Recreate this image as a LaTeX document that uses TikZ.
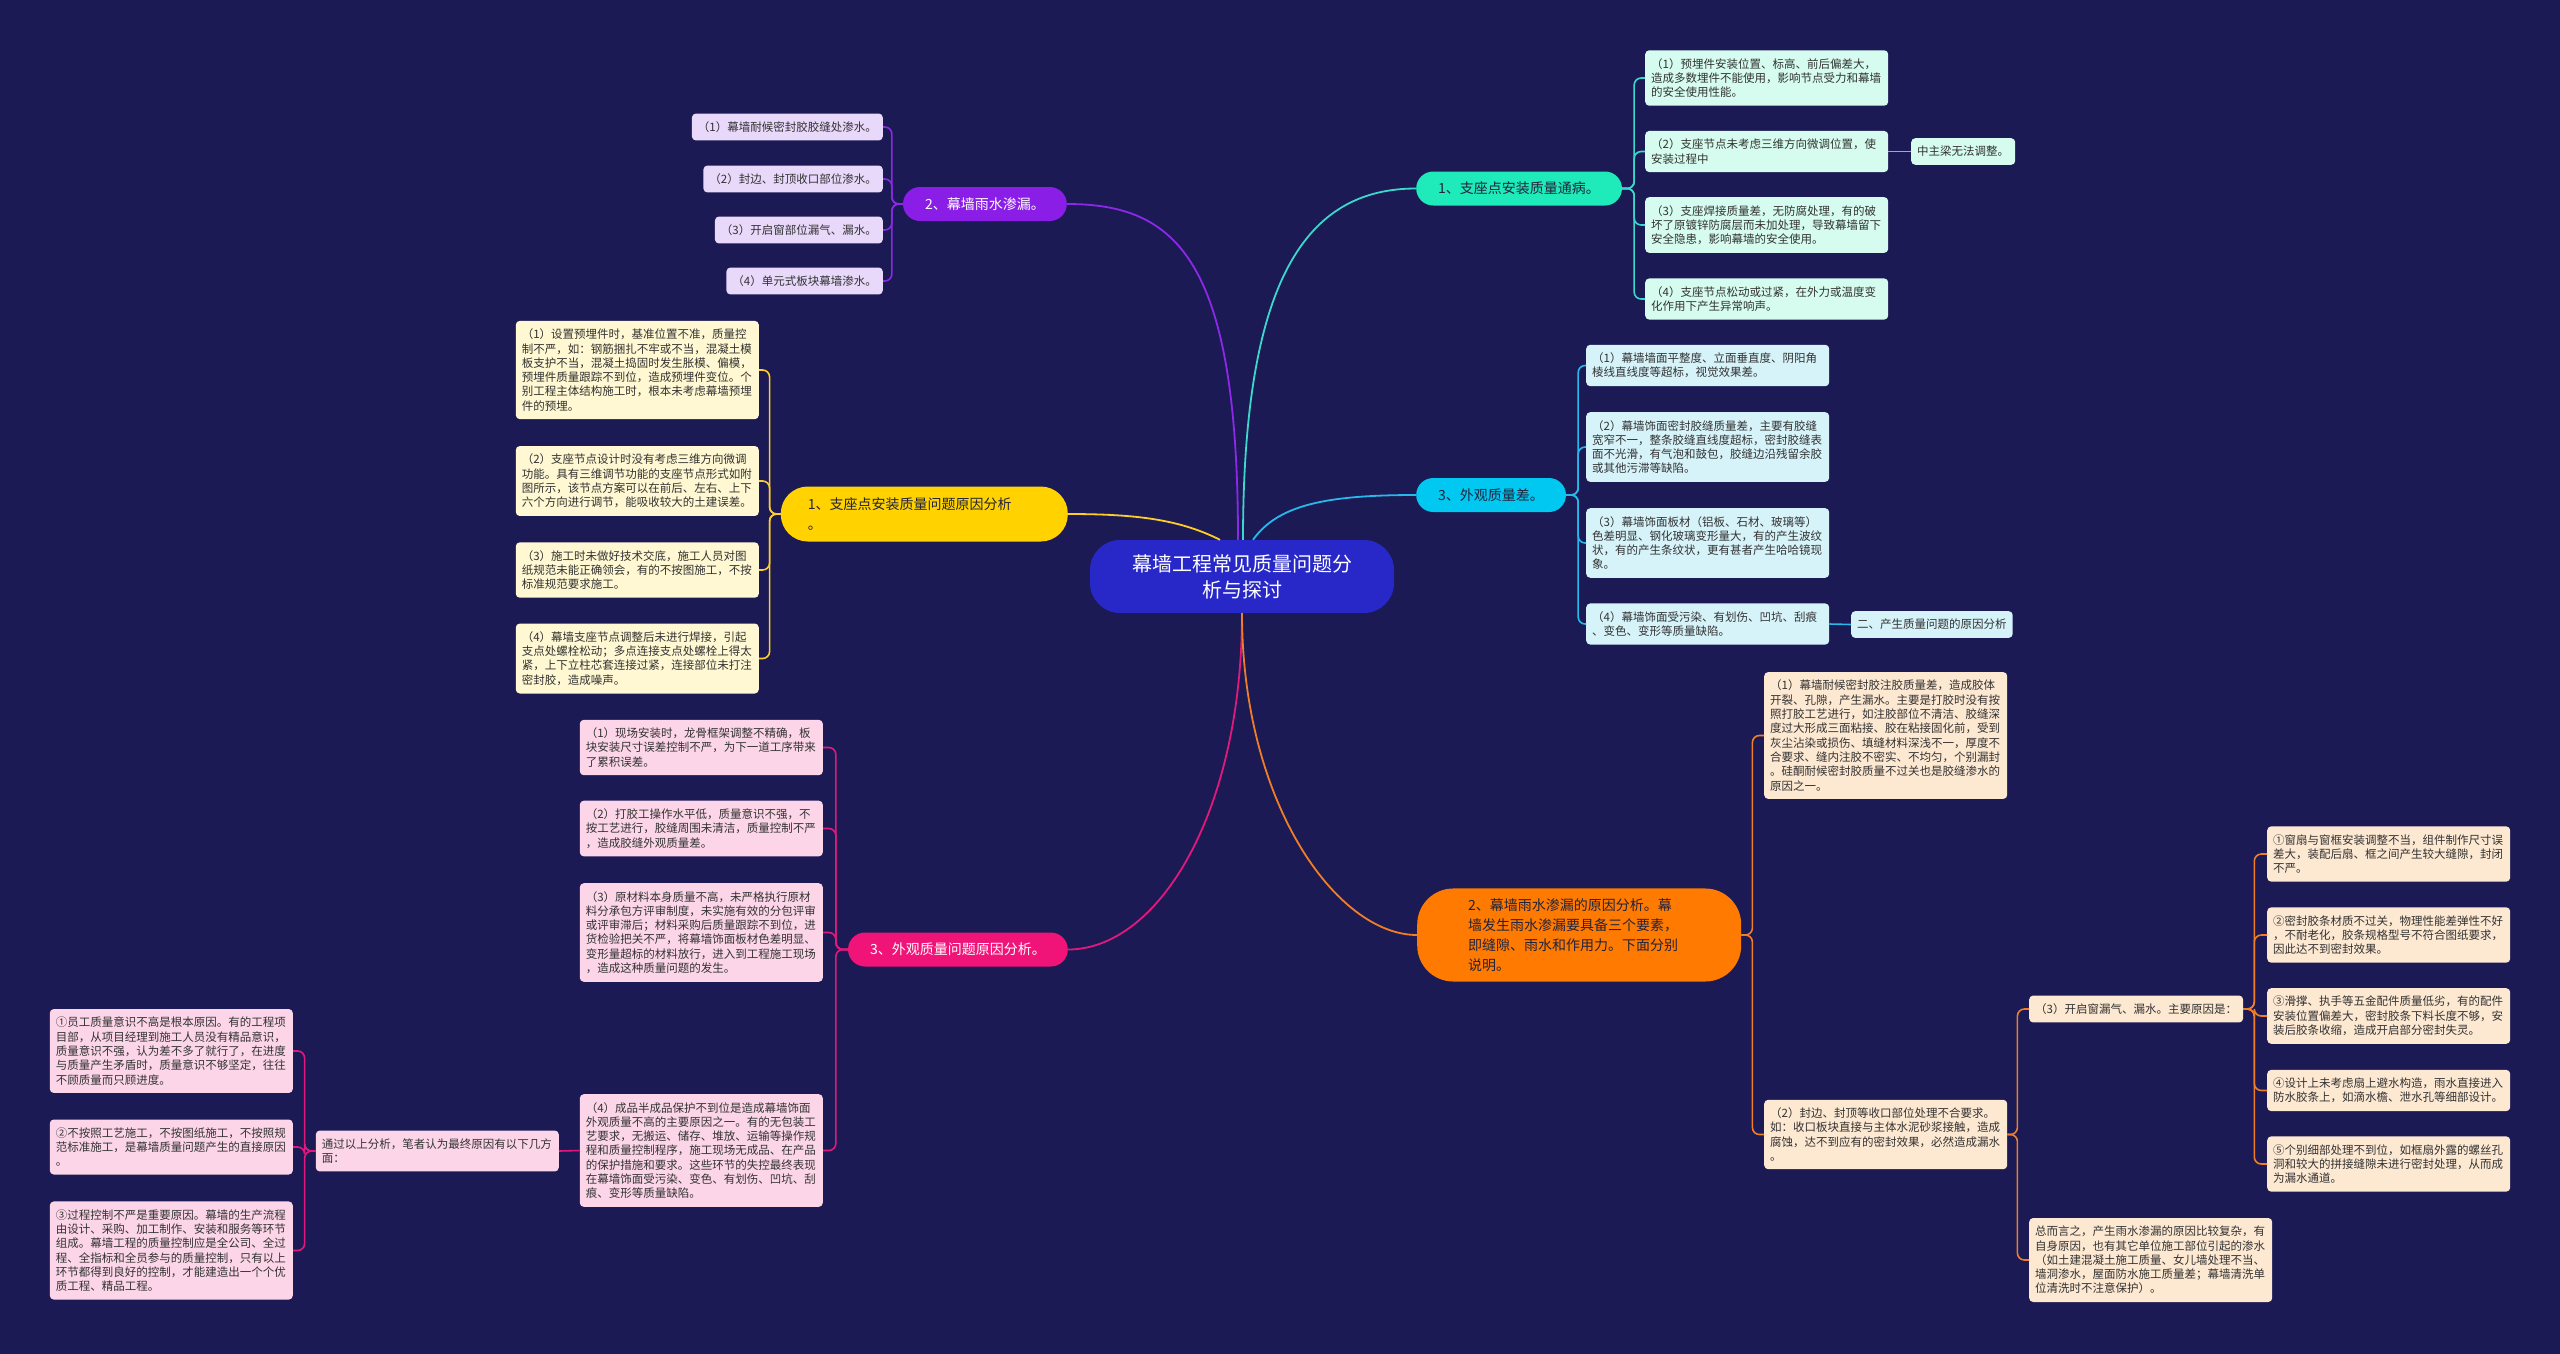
\documentclass[tikz,border=0pt]{standalone}
\usepackage{fontspec}
\setmainfont{Noto Sans CJK SC}
\setlength{\parindent}{0pt}

\definecolor{bgnavy}{RGB}{27,26,84}
\definecolor{rootblue}{RGB}{40,40,200}
\definecolor{darktext}{RGB}{35,35,60}
\definecolor{leaftext}{RGB}{50,50,50}
\definecolor{tealfill}{RGB}{30,235,185}
\definecolor{tealline}{RGB}{60,215,205}
\definecolor{tealleaf}{RGB}{214,252,240}
\definecolor{cyanfill}{RGB}{0,200,240}
\definecolor{cyanline}{RGB}{40,185,235}
\definecolor{cyanleaf}{RGB}{214,243,250}
\definecolor{orangefill}{RGB}{255,122,0}
\definecolor{orangeline}{RGB}{240,125,40}
\definecolor{orangeleaf}{RGB}{253,232,210}
\definecolor{purplefill}{RGB}{138,30,230}
\definecolor{purpleline}{RGB}{140,40,230}
\definecolor{purpleleaf}{RGB}{232,216,250}
\definecolor{yellowfill}{RGB}{255,210,0}
\definecolor{yellowline}{RGB}{255,205,40}
\definecolor{yellowleaf}{RGB}{255,248,210}
\definecolor{pinkfill}{RGB}{240,20,120}
\definecolor{pinkline}{RGB}{225,25,125}
\definecolor{pinkleaf}{RGB}{252,214,232}

\begin{document}
\begin{tikzpicture}[
    x=1pt, y=1pt,
    rootbox/.style={rectangle, rounded corners=30pt, fill=rootblue, text=white,
                    minimum width=304pt, minimum height=73pt, align=center, font=\fontsize{20}{26}\selectfont},
    branchbox/.style={rectangle, rounded corners=17pt, minimum height=34pt, inner xsep=22pt,
                      font=\fontsize{14}{20}\selectfont, text=darktext},
    leafbox/.style={rectangle, rounded corners=4pt, inner xsep=6pt, inner ysep=8pt,
                    font=\fontsize{11.5}{14.3}\selectfont, text=leaftext},
    wide/.style={text width=231pt, align=left},
    mainline/.style={line width=1.8pt},
    conn/.style={line width=1.6pt, rounded corners=7pt}
]

% Background
\useasboundingbox (0,0) rectangle (2560,-1353);
\fill[bgnavy] (-10,10) rectangle (2570,-1363);

% Root
\node[rootbox] (root) at (1242,-576.5) {幕墙工程常见质量问题分\\析与探讨};

% Right branches
\node[branchbox, fill=tealfill, anchor=west] (n1) at (1416,-188.5) {1、支座点安装质量通病。};
\node[branchbox, fill=cyanfill, anchor=west] (n3) at (1416,-495) {3、外观质量差。};
\node[branchbox, fill=orangefill, anchor=west, rounded corners=36pt, text width=222pt, inner xsep=51pt, inner ysep=10pt, align=left] (n2) at (1417,-935) {2、幕墙雨水渗漏的原因分析。幕\\墙发生雨水渗漏要具备三个要素，\\即缝隙、雨水和作用力。下面分别\\说明。};

% Left branches
\node[branchbox, fill=yellowfill, anchor=east, rounded corners=27pt, minimum height=55pt, text width=233pt, inner xsep=27pt, align=left] (m1) at (1068,-514) {1、支座点安装质量问题原因分析\\。};
\node[branchbox, fill=purplefill, text=white, anchor=east] (m2) at (1067,-204) {2、幕墙雨水渗漏。};
\node[branchbox, fill=pinkfill, text=white, anchor=east] (m3) at (1068,-949.5) {3、外观质量问题原因分析。};

% Leaves: 1、支座点安装质量通病
\node[leafbox, wide, fill=tealleaf, anchor=west] (n1c1) at (1645,-78) {（1）预埋件安装位置、标高、前后偏差大，\\造成多数埋件不能使用，影响节点受力和幕墙\\的安全使用性能。};
\node[leafbox, wide, fill=tealleaf, anchor=west] (n1c2) at (1645,-151.5) {（2）支座节点未考虑三维方向微调位置，使\\安装过程中};
\node[leafbox, wide, fill=tealleaf, anchor=west] (n1c3) at (1645,-225) {（3）支座焊接质量差，无防腐处理，有的破\\坏了原镀锌防腐层而未加处理，导致幕墙留下\\安全隐患，影响幕墙的安全使用。};
\node[leafbox, wide, fill=tealleaf, anchor=west] (n1c4) at (1645,-299) {（4）支座节点松动或过紧，在外力或温度变\\化作用下产生异常响声。};
\node[leafbox, fill=tealleaf, anchor=west] (n1c2a) at (1911,-151.5) {中主梁无法调整。};

% Leaves: 3、外观质量差
\node[leafbox, wide, fill=cyanleaf, anchor=west] (n3c1) at (1586,-365.5) {（1）幕墙墙面平整度、立面垂直度、阴阳角\\棱线直线度等超标，视觉效果差。};
\node[leafbox, wide, fill=cyanleaf, anchor=west] (n3c2) at (1586,-447) {（2）幕墙饰面密封胶缝质量差，主要有胶缝\\宽窄不一，整条胶缝直线度超标，密封胶缝表\\面不光滑，有气泡和鼓包，胶缝边沿残留余胶\\或其他污滞等缺陷。};
\node[leafbox, wide, fill=cyanleaf, anchor=west] (n3c3) at (1586,-543) {（3）幕墙饰面板材（铝板、石材、玻璃等）\\色差明显、钢化玻璃变形量大，有的产生波纹\\状，有的产生条纹状，更有甚者产生哈哈镜现\\象。};
\node[leafbox, wide, fill=cyanleaf, anchor=west] (n3c4) at (1586,-624) {（4）幕墙饰面受污染、有划伤、凹坑、刮痕\\、变色、变形等质量缺陷。};
\node[leafbox, fill=cyanleaf, anchor=west] (n3c4a) at (1851,-624.5) {二、产生质量问题的原因分析};

% Leaves: 2、幕墙雨水渗漏的原因分析
\node[leafbox, wide, fill=orangeleaf, anchor=west] (n2c1) at (1764,-735.5) {（1）幕墙耐候密封胶注胶质量差，造成胶体\\开裂、孔隙，产生漏水。主要是打胶时没有按\\照打胶工艺进行，如注胶部位不清洁、胶缝深\\度过大形成三面粘接、胶在粘接固化前，受到\\灰尘沾染或损伤、填缝材料深浅不一，厚度不\\合要求、缝内注胶不密实、不均匀，个别漏封\\。硅酮耐候密封胶质量不过关也是胶缝渗水的\\原因之一。};
\node[leafbox, wide, fill=orangeleaf, anchor=west] (n2c2) at (1764,-1134.5) {（2）封边、封顶等收口部位处理不合要求。\\如：收口板块直接与主体水泥砂浆接触，造成\\腐蚀，达不到应有的密封效果，必然造成漏水\\。};
\node[leafbox, fill=orangeleaf, anchor=west] (n2c2a) at (2029,-1009) {（3）开启窗漏气、漏水。主要原因是：};
\node[leafbox, wide, fill=orangeleaf, anchor=west] (n2c2b) at (2029,-1260) {总而言之，产生雨水渗漏的原因比较复杂，有\\自身原因，也有其它单位施工部位引起的渗水\\（如土建混凝土施工质量、女儿墙处理不当、\\墙洞渗水，屋面防水施工质量差；幕墙清洗单\\位清洗时不注意保护）。};
\node[leafbox, wide, fill=orangeleaf, anchor=west] (w1) at (2267,-854) {①窗扇与窗框安装调整不当，组件制作尺寸误\\差大，装配后扇、框之间产生较大缝隙，封闭\\不严。};
\node[leafbox, wide, fill=orangeleaf, anchor=west] (w2) at (2267,-935) {②密封胶条材质不过关，物理性能差弹性不好\\，不耐老化，胶条规格型号不符合图纸要求，\\因此达不到密封效果。};
\node[leafbox, wide, fill=orangeleaf, anchor=west] (w3) at (2267,-1016) {③滑撑、执手等五金配件质量低劣，有的配件\\安装位置偏差大，密封胶条下料长度不够，安\\装后胶条收缩，造成开启部分密封失灵。};
\node[leafbox, wide, fill=orangeleaf, anchor=west] (w4) at (2267,-1090.5) {④设计上未考虑扇上避水构造，雨水直接进入\\防水胶条上，如滴水檐、泄水孔等细部设计。};
\node[leafbox, wide, fill=orangeleaf, anchor=west] (w5) at (2267,-1164) {⑤个别细部处理不到位，如框扇外露的螺丝孔\\洞和较大的拼接缝隙未进行密封处理，从而成\\为漏水通道。};

% Leaves: 2、幕墙雨水渗漏
\node[leafbox, fill=purpleleaf, anchor=east] (m2c1) at (883,-127) {（1）幕墙耐候密封胶胶缝处渗水。};
\node[leafbox, fill=purpleleaf, anchor=east] (m2c2) at (883,-179) {（2）封边、封顶收口部位渗水。};
\node[leafbox, fill=purpleleaf, anchor=east] (m2c3) at (883,-230) {（3）开启窗部位漏气、漏水。};
\node[leafbox, fill=purpleleaf, anchor=east] (m2c4) at (883,-281) {（4）单元式板块幕墙渗水。};

% Leaves: 1、支座点安装质量问题原因分析
\node[leafbox, wide, fill=yellowleaf, anchor=east] (m1c1) at (759,-370) {（1）设置预埋件时，基准位置不准，质量控\\制不严，如：钢筋捆扎不牢或不当，混凝土模\\板支护不当，混凝土捣固时发生胀模、偏模，\\预埋件质量跟踪不到位，造成预埋件变位。个\\别工程主体结构施工时，根本未考虑幕墙预埋\\件的预埋。};
\node[leafbox, wide, fill=yellowleaf, anchor=east] (m1c2) at (759,-481) {（2）支座节点设计时没有考虑三维方向微调\\功能。具有三维调节功能的支座节点形式如附\\图所示，该节点方案可以在前后、左右、上下\\六个方向进行调节，能吸收较大的土建误差。};
\node[leafbox, wide, fill=yellowleaf, anchor=east] (m1c3) at (759,-570) {（3）施工时未做好技术交底，施工人员对图\\纸规范未能正确领会，有的不按图施工，不按\\标准规范要求施工。};
\node[leafbox, wide, fill=yellowleaf, anchor=east] (m1c4) at (759,-658.5) {（4）幕墙支座节点调整后未进行焊接，引起\\支点处螺栓松动；多点连接支点处螺栓上得太\\紧，上下立柱芯套连接过紧，连接部位未打注\\密封胶，造成噪声。};

% Leaves: 3、外观质量问题原因分析
\node[leafbox, wide, fill=pinkleaf, anchor=east] (m3c1) at (823,-747.5) {（1）现场安装时，龙骨框架调整不精确，板\\块安装尺寸误差控制不严，为下一道工序带来\\了累积误差。};
\node[leafbox, wide, fill=pinkleaf, anchor=east] (m3c2) at (823,-828.5) {（2）打胶工操作水平低，质量意识不强，不\\按工艺进行，胶缝周围未清洁，质量控制不严\\，造成胶缝外观质量差。};
\node[leafbox, wide, fill=pinkleaf, anchor=east] (m3c3) at (823,-932.5) {（3）原材料本身质量不高，未严格执行原材\\料分承包方评审制度，未实施有效的分包评审\\或评审滞后；材料采购后质量跟踪不到位，进\\货检验把关不严，将幕墙饰面板材色差明显、\\变形量超标的材料放行，进入到工程施工现场\\，造成这种质量问题的发生。};
\node[leafbox, wide, fill=pinkleaf, anchor=east] (m3c4) at (823,-1150.5) {（4）成品半成品保护不到位是造成幕墙饰面\\外观质量不高的主要原因之一。有的无包装工\\艺要求，无搬运、储存、堆放、运输等操作规\\程和质量控制程序，施工现场无成品、在产品\\的保护措施和要求。这些环节的失控最终表现\\在幕墙饰面受污染、变色、有划伤、凹坑、刮\\痕、变形等质量缺陷。};
\node[leafbox, wide, fill=pinkleaf, anchor=east] (m3c4a) at (559,-1151) {通过以上分析，笔者认为最终原因有以下几方\\面：};
\node[leafbox, wide, fill=pinkleaf, anchor=east] (q1) at (293,-1051) {①员工质量意识不高是根本原因。有的工程项\\目部，从项目经理到施工人员没有精品意识，\\质量意识不强，认为差不多了就行了，在进度\\与质量产生矛盾时，质量意识不够坚定，往往\\不顾质量而只顾进度。};
\node[leafbox, wide, fill=pinkleaf, anchor=east] (q2) at (293,-1147) {②不按照工艺施工，不按图纸施工，不按照规\\范标准施工，是幕墙质量问题产生的直接原因\\。};
\node[leafbox, wide, fill=pinkleaf, anchor=east] (q3) at (293,-1250.5) {③过程控制不严是重要原因。幕墙的生产流程\\由设计、采购、加工制作、安装和服务等环节\\组成。幕墙工程的质量控制应是全公司、全过\\程、全指标和全员参与的质量控制，只有以上\\环节都得到良好的控制，才能建造出一个个优\\质工程、精品工程。};

% Root to branches
\draw[mainline, purpleline] ([xshift=-4pt]root.north) .. controls +(0,280) and +(110,0) .. (m2.east);
\draw[mainline, tealline] ([xshift=1pt]root.north) .. controls +(0,260) and +(-110,0) .. (n1.west);
\draw[mainline, yellowline] ([xshift=-22pt]root.north) .. controls +(-40,20) and +(70,0) .. (m1.east);
\draw[mainline, cyanline] ([xshift=11pt]root.north) .. controls +(25,35) and +(-90,0) .. (n3.west);
\draw[mainline, pinkline] (root.south) .. controls +(0,-200) and +(90,0) .. (m3.east);
\draw[mainline, orangeline] (root.south) .. controls +(0,-190) and +(-80,0) .. (n2.west);

% Branches to leaves
\draw[conn, tealline] (n1.east) -- ++(12,0) |- (n1c1.west);
\draw[conn, tealline] (n1.east) -- ++(12,0) |- (n1c2.west);
\draw[conn, tealline] (n1.east) -- ++(12,0) |- (n1c3.west);
\draw[conn, tealline] (n1.east) -- ++(12,0) |- (n1c4.west);
\draw[conn, tealline] (n1c2.east) -- (n1c2a.west);

\draw[conn, cyanline] (n3.east) -- ++(12,0) |- (n3c1.west);
\draw[conn, cyanline] (n3.east) -- ++(12,0) |- (n3c2.west);
\draw[conn, cyanline] (n3.east) -- ++(12,0) |- (n3c3.west);
\draw[conn, cyanline] (n3.east) -- ++(12,0) |- (n3c4.west);
\draw[conn, cyanline] (n3c4.east) -- (n3c4a.west);

\draw[conn, orangeline] (n2.east) -- ++(11,0) |- (n2c1.west);
\draw[conn, orangeline] (n2.east) -- ++(11,0) |- (n2c2.west);
\draw[conn, orangeline] (n2c2.east) -- ++(10,0) |- (n2c2a.west);
\draw[conn, orangeline] (n2c2.east) -- ++(10,0) |- (n2c2b.west);
\draw[conn, orangeline] (n2c2a.east) -- ++(11,0) |- (w1.west);
\draw[conn, orangeline] (n2c2a.east) -- ++(11,0) |- (w2.west);
\draw[conn, orangeline] (n2c2a.east) -- ++(11,0) |- (w3.west);
\draw[conn, orangeline] (n2c2a.east) -- ++(11,0) |- (w4.west);
\draw[conn, orangeline] (n2c2a.east) -- ++(11,0) |- (w5.west);

\draw[conn, purpleline] (m2.west) -- ++(-11,0) |- (m2c1.east);
\draw[conn, purpleline] (m2.west) -- ++(-11,0) |- (m2c2.east);
\draw[conn, purpleline] (m2.west) -- ++(-11,0) |- (m2c3.east);
\draw[conn, purpleline] (m2.west) -- ++(-11,0) |- (m2c4.east);

\draw[conn, yellowline] (m1.west) -- ++(-11,0) |- (m1c1.east);
\draw[conn, yellowline] (m1.west) -- ++(-11,0) |- (m1c2.east);
\draw[conn, yellowline] (m1.west) -- ++(-11,0) |- (m1c3.east);
\draw[conn, yellowline] (m1.west) -- ++(-11,0) |- (m1c4.east);

\draw[conn, pinkline] (m3.west) -- ++(-12,0) |- (m3c1.east);
\draw[conn, pinkline] (m3.west) -- ++(-12,0) |- (m3c2.east);
\draw[conn, pinkline] (m3.west) -- ++(-12,0) |- (m3c3.east);
\draw[conn, pinkline] (m3.west) -- ++(-12,0) |- (m3c4.east);
\draw[conn, pinkline] (m3c4.west) -- (m3c4a.east);
\draw[conn, pinkline] (m3c4a.west) -- ++(-11,0) |- (q1.east);
\draw[conn, pinkline] (m3c4a.west) -- ++(-11,0) |- (q2.east);
\draw[conn, pinkline] (m3c4a.west) -- ++(-11,0) |- (q3.east);

\end{tikzpicture}
\end{document}
